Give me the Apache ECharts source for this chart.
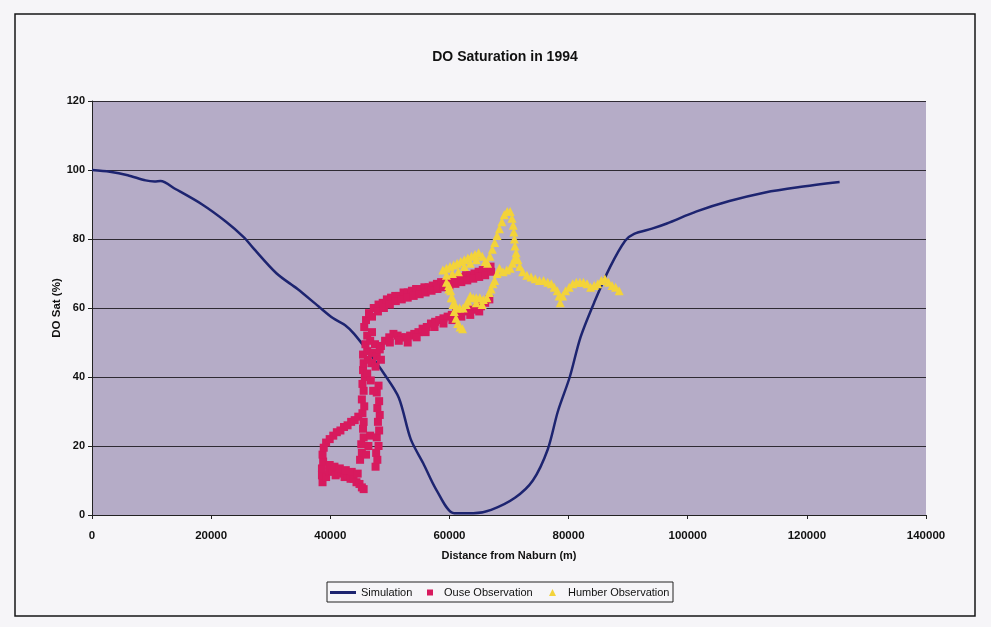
<!DOCTYPE html>
<html>
<head>
<meta charset="utf-8">
<title>DO Saturation in 1994</title>
<script src="https://cdn.jsdelivr.net/npm/echarts@6/dist/echarts.min.js"></script>
<style>
  html, body { margin: 0; padding: 0; background: #f3f2f5; }
  #chart { width: 991px; height: 627px; }
</style>
</head>
<body>
<div id="chart"></div>
<script>
// Distance downstream (m) and simulated DO saturation (%)
const simDistance = [0, 3000, 6000, 9000, 10500, 11500, 14000, 18500, 22500, 25500, 27000, 31000, 34500, 38000,
  40500, 42500, 44000, 46500, 49000, 51500, 53500, 55600, 57800, 60800, 64000, 67000, 71000, 74000, 76500,
  78200, 80200, 82000, 84400, 87000, 89500, 91000, 94000, 96500, 101500, 107000, 113000, 118500, 125500];
const simSat = [100, 99.5, 98.5, 97, 96.7, 96.8, 94.5, 90, 85, 80.5, 77.5, 70, 65.5, 60.5,
  57, 55, 52.5, 47, 41, 34, 22, 15, 7.3, 0.5, 0.5, 1.5, 5, 10, 19,
  30, 40, 51.5, 62, 72, 79.5, 81.5, 83, 84.5, 88, 91, 93.5, 95, 96.5];

// Ouse survey points [distance (m), DO sat (%)]
const ouseObservation = [
  [38700, 9.5], [38600, 11.5], [38600, 13.5], [38800, 15.5], [38700, 17.5], [38900, 19.5], [39300, 21],
  [39300, 11], [39900, 12.5], [40400, 13], [40900, 11.5], [41400, 12], [41900, 12.5], [42400, 11], [42900, 11.5],
  [43400, 10.5], [43900, 10.5], [44400, 9.5], [44900, 9], [45300, 8], [45600, 7.5],
  [39900, 14.5], [40700, 14], [41600, 13.5], [42600, 13], [43600, 12.5], [44600, 12],
  [39900, 22], [40500, 23], [41100, 24], [41700, 24.5], [42300, 25.5], [42900, 26], [43500, 27], [44100, 27.5], [44700, 28.5],
  [45000, 16], [45300, 18], [45200, 20.5], [45600, 22.5], [45500, 25], [46000, 17.5], [46400, 20], [46700, 23],
  [47600, 14], [47900, 16], [47700, 18], [48100, 20], [47800, 22.5], [48200, 24.5], [48000, 27], [48300, 29],
  [47900, 31], [48200, 33], [47800, 35.5], [48100, 37.5],
  [45600, 27], [45400, 29.5], [45700, 31.5], [45300, 33.5], [45600, 36], [45400, 38], [45800, 40], [45500, 42],
  [46200, 41], [46800, 39], [47200, 36],
  [45600, 44], [46300, 45], [47000, 44], [47600, 43], [45500, 46.5], [46200, 47.5], [47000, 47], [47800, 46], [48500, 45],
  [45900, 49.5], [46700, 50.5], [47500, 49.5], [48300, 48], [46200, 52], [47000, 53],
  [45700, 54.5], [46000, 56.5], [46500, 58.5], [47300, 60], [48100, 61], [48800, 61.5], [49500, 62.5], [50200, 63],
  [50900, 63.5], [51600, 63.5], [52300, 64.5], [53000, 64.5], [53700, 65], [54400, 65.5], [55100, 65.5], [55800, 66],
  [56500, 66], [57200, 66.5], [57900, 67], [58600, 67.5], [59300, 67.5], [60000, 68], [60700, 68.5], [61400, 68.5],
  [62100, 69], [62800, 69.5], [63500, 69.5], [64200, 70], [64900, 70.5], [65600, 71], [66300, 71.5], [66900, 72],
  [47000, 57.5], [48000, 59], [49000, 60], [50000, 61], [51000, 62], [52000, 62.5], [53000, 63], [54000, 63.5],
  [55000, 64], [56000, 64.5], [57000, 65], [58000, 65.5], [59000, 66], [60000, 66.5], [61000, 67], [62000, 67.5],
  [63000, 68], [64000, 68.5], [65000, 69], [66000, 69.5], [67000, 70.5],
  [48500, 49], [49200, 50.5], [49900, 51.5], [50600, 52.5], [51300, 52], [52000, 51.5], [52700, 51.5], [53400, 52],
  [54100, 52.5], [54800, 53], [55500, 54], [56200, 54.5], [56900, 55.5], [57600, 56], [58300, 56.5], [59000, 57],
  [59700, 57.5], [60400, 58], [61100, 58.5], [61800, 59], [62500, 59], [63200, 59.5], [63900, 59.5], [64600, 60],
  [65300, 60.5], [66000, 61.5], [66700, 62.5],
  [50000, 50], [51500, 50.5], [53000, 50], [54500, 51.5], [56000, 53], [57500, 54.5], [59000, 55.5], [60500, 56.5],
  [62000, 57.5], [63500, 58], [65000, 59]
];

// Humber survey points [distance (m), DO sat (%)]
const humberObservation = [
  [58900, 71], [59500, 71.5], [60100, 72], [60700, 72.5], [61300, 73], [61900, 73.5], [62500, 74], [63100, 74.5],
  [63700, 75], [64300, 75.5], [64900, 76], [65500, 75], [66000, 73.5], [66400, 73], [66800, 75], [67200, 77],
  [67600, 79], [68000, 81], [68400, 83], [68800, 85], [69200, 87], [69700, 88], [70200, 88], [70500, 86],
  [70700, 84], [70800, 82], [70900, 80], [71000, 78], [71200, 76], [71500, 74], [71800, 72], [72300, 70.5],
  [73000, 69.5], [73700, 69], [74400, 68.5], [75100, 68], [75800, 68], [76500, 67.5], [77100, 67], [77600, 66],
  [78100, 65], [78400, 63.5], [78600, 61.5], [79000, 63.5], [79500, 65], [80100, 66], [80700, 67], [81300, 67.5],
  [81900, 67.5], [82500, 67.5], [83100, 67], [83700, 66], [84300, 66.5], [84900, 67], [85500, 68], [86100, 68.5],
  [86700, 67.5], [87300, 66.5], [87900, 66], [88500, 65],
  [59500, 69.5], [60500, 70], [61500, 70.5], [62500, 72], [63500, 73], [64500, 74],
  [71000, 74.5], [70600, 73], [70200, 71.5], [69600, 71], [69000, 70.5], [68400, 71.5], [68000, 70], [67600, 68],
  [67300, 67], [67000, 65.5], [66700, 64.5], [66300, 63], [65700, 62.5], [65100, 63], [64500, 63], [64000, 63],
  [63500, 63.5], [63100, 62], [62800, 61], [62300, 60], [61700, 60], [61200, 60], [60800, 61.5], [60500, 63],
  [60200, 65], [59900, 66.5], [59500, 67.5], [59900, 65.5], [60300, 63], [60600, 61], [60800, 59], [61100, 57],
  [61400, 55.5], [61800, 54.5], [62200, 54], [64500, 61.5], [65500, 61]
];

const xTickStep = 20000;
const yTickStep = 20;

const FONT = "'Liberation Sans', Arial, sans-serif";
const NAVY = '#1d2470';
const PINK = '#d81a5e';
const YELLOW = '#f3d33a';

const simData = simDistance.map((d, i) => [d, simSat[i]]);

const chart = echarts.init(document.getElementById('chart'), null, { renderer: 'canvas' });

const legendText = { fontFamily: FONT, fontSize: 11, color: '#111', lineHeight: 13 };

chart.setOption({
  backgroundColor: '#f6f5f8',
  animation: false,
  grid: { left: 92, right: 65, top: 101, bottom: 112, show: true, backgroundColor: '#b5acc7', borderWidth: 0 },
  xAxis: {
    type: 'value', min: 0, max: 140000, interval: xTickStep,
    name: 'Distance from Naburn (m)', nameLocation: 'middle', nameGap: 35, nameMoveOverlap: false,
    nameTextStyle: { fontFamily: FONT, fontWeight: 'bold', fontSize: 11, color: '#111' },
    axisLine: { onZero: false, lineStyle: { color: '#222', width: 1 } },
    axisTick: { show: true, length: 4, inside: false, lineStyle: { color: '#222' } },
    axisLabel: { fontFamily: FONT, fontWeight: 'bold', fontSize: 11.5, color: '#111', margin: 15,
      formatter: v => String(v) },
    splitLine: { show: false }
  },
  yAxis: {
    type: 'value', min: 0, max: 120, interval: yTickStep,
    name: 'DO Sat (%)', nameLocation: 'middle', nameGap: 29, nameMoveOverlap: false,
    nameTextStyle: { fontFamily: FONT, fontWeight: 'bold', fontSize: 11.5, color: '#111' },
    axisLine: { show: true, lineStyle: { color: '#222', width: 1 } },
    axisTick: { show: true, length: 4, lineStyle: { color: '#222' } },
    axisLabel: { fontFamily: FONT, fontWeight: 'bold', fontSize: 11, color: '#111', margin: 7 },
    splitLine: { show: true, lineStyle: { color: '#2e2a33', width: 1 } }
  },
  legend: [
    {
      data: [{ name: 'Simulation', icon: 'rect' }], left: 330, top: 586, padding: 0,
      itemWidth: 26, itemHeight: 3, selectedMode: false,
      textStyle: legendText
    },
    {
      data: [{ name: 'Ouse Observation', icon: 'rect' }], left: 427, top: 586, padding: 0,
      itemWidth: 6, itemHeight: 6, selectedMode: false,
      textStyle: Object.assign({ padding: [0, 0, 0, 6] }, legendText)
    },
    {
      data: [{ name: 'Humber Observation', icon: 'triangle' }], left: 549, top: 586, padding: 0,
      itemWidth: 7, itemHeight: 7, selectedMode: false,
      textStyle: Object.assign({ padding: [0, 0, 0, 7] }, legendText)
    }
  ],
  graphic: [
    {
      type: 'rect', silent: true, z: -1,
      shape: { x: 15, y: 14, width: 960, height: 602 },
      style: { fill: 'none', stroke: '#161616', lineWidth: 1.5 }
    },
    {
      type: 'rect', silent: true,
      shape: { x: 327, y: 582, width: 346, height: 20 },
      style: { fill: 'none', stroke: '#222', lineWidth: 1 }
    },
    {
      type: 'text', silent: true, x: 505, y: 50,
      style: { text: 'DO Saturation in 1994', align: 'center', fill: '#111',
        font: "bold 14px 'Liberation Sans', Arial, sans-serif" }
    }
  ],
  series: [
    {
      name: 'Simulation', type: 'line', data: simData, smooth: 0.3,
      showSymbol: false, symbol: 'none',
      lineStyle: { color: NAVY, width: 2.5 }, itemStyle: { color: NAVY }, z: 2
    },
    {
      name: 'Ouse Observation', type: 'scatter', data: ouseObservation,
      symbol: 'rect', symbolSize: 8, itemStyle: { color: PINK, opacity: 1 }, z: 3
    },
    {
      name: 'Humber Observation', type: 'scatter', data: humberObservation,
      symbol: 'triangle', symbolSize: 9, itemStyle: { color: YELLOW, opacity: 1 }, z: 4
    }
  ]
});
</script>
</body>
</html>
